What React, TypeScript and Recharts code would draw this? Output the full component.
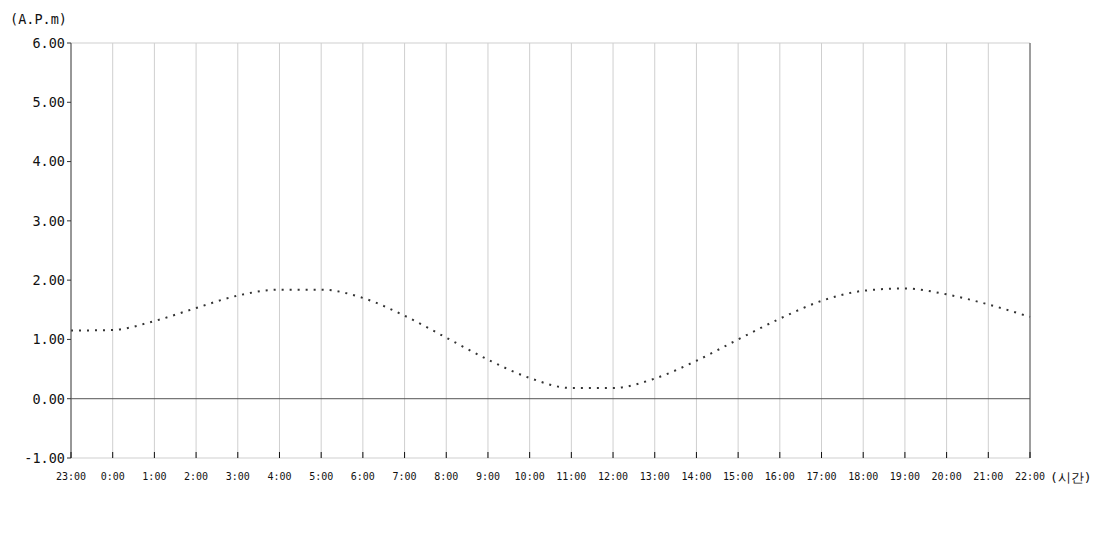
import React from "react";
import {
  CartesianGrid,
  Line,
  LineChart,
  ReferenceLine,
  XAxis,
  YAxis,
} from "recharts";

const hours = [
  "23:00", "0:00", "1:00", "2:00", "3:00", "4:00", "5:00", "6:00",
  "7:00", "8:00", "9:00", "10:00", "11:00", "12:00", "13:00", "14:00",
  "15:00", "16:00", "17:00", "18:00", "19:00", "20:00", "21:00", "22:00",
];

const level = [
  1.15, 1.16, 1.31, 1.53, 1.74, 1.84, 1.84, 1.7,
  1.4, 1.03, 0.66, 0.35, 0.18, 0.18, 0.34, 0.64,
  1.0, 1.35, 1.65, 1.82, 1.86, 1.76, 1.59, 1.38,
];

const yTicks = [-1, 0, 1, 2, 3, 4, 5, 6];

const FONT = "'DejaVu Sans Mono', monospace";

const data = hours.map((h, i) => ({ hour: h, level: level[i] }));

function HourTick(props: any) {
  const { x, y, payload } = props;
  return (
    <g>
      <line x1={x} x2={x} y1={y - 6} y2={y} stroke="#111" strokeWidth={1} />
      <text
        x={x}
        y={y + 22}
        textAnchor="middle"
        fontSize={10}
        fontFamily={FONT}
        fill="#111"
      >
        {payload.value}
      </text>
    </g>
  );
}

export default function App() {
  return (
    <div style={{ position: "absolute", left: 0, top: 0, background: "#fff" }}>
      <LineChart
        width={1100}
        height={550}
        data={data}
        margin={{ top: 43, right: 10, bottom: 62, left: 11 }}
      >
        <CartesianGrid stroke="#cfcfcf" strokeWidth={1} />
        <XAxis
          dataKey="hour"
          interval={0}
          axisLine={false}
          tickLine={false}
          tickSize={0}
          tickMargin={0}
          height={30}
          tick={<HourTick />}
        />
        <YAxis
          yAxisId="left"
          domain={[-1, 6]}
          ticks={yTicks}
          width={60}
          tickFormatter={(v) => Number(v).toFixed(2)}
          tick={{ fontSize: 13.5, fontFamily: FONT, fill: "#111" }}
          tickSize={4}
          tickMargin={2}
          axisLine={{ stroke: "#555" }}
          tickLine={{ stroke: "#333" }}
        />
        <YAxis
          yAxisId="right"
          orientation="right"
          domain={[-1, 6]}
          ticks={yTicks}
          width={60}
          tickFormatter={(v) => Number(v).toFixed(2)}
          tick={{ fontSize: 13.5, fontFamily: FONT, fill: "#111" }}
          tickSize={4}
          tickMargin={2}
          axisLine={{ stroke: "#555" }}
          tickLine={{ stroke: "#333" }}
        />
        <ReferenceLine yAxisId="left" y={0} stroke="#555" />
        <Line
          yAxisId="left"
          type="monotone"
          dataKey="level"
          stroke="#333"
          strokeWidth={2}
          strokeDasharray="2 6"
          dot={false}
          isAnimationActive={false}
        />
        <text x={10} y={24} fontSize={13.5} fontFamily={FONT} fill="#111">
          (A.P.m)
        </text>
        <text x={1050} y={482} fontSize={13} fontFamily={FONT} fill="#111">
          (시간)
        </text>
      </LineChart>
    </div>
  );
}
